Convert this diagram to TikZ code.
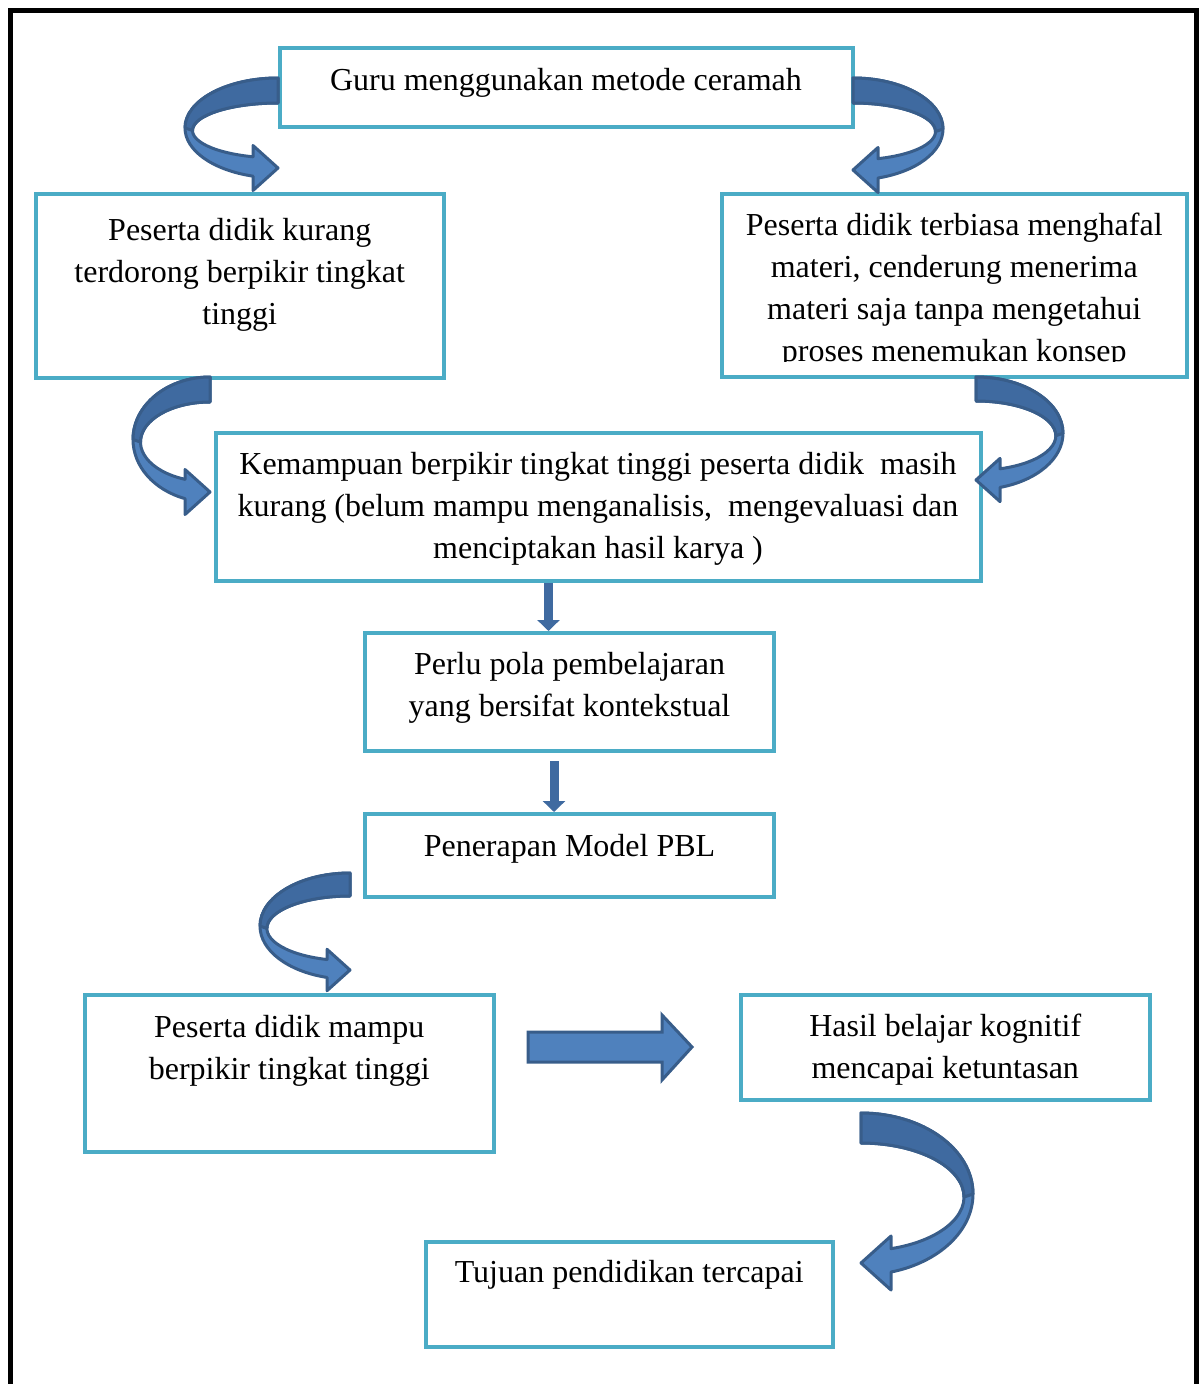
\documentclass[tikz,border=0pt]{standalone}
\usepackage{fontspec}
\setmainfont{Liberation Serif}
\usetikzlibrary{arrows.meta}

\definecolor{boxline}{HTML}{4BACC6}
\definecolor{arrfill}{HTML}{4F81BD}
\definecolor{arrback}{HTML}{3F6AA0}
\definecolor{arredge}{HTML}{385D8A}

\tikzset{
  box/.style={draw=boxline, line width=4pt, inner sep=0pt, anchor=north west, fill=white,
    font=\fontsize{32}{42}\selectfont},
  arrbody/.style={fill=arrfill, draw=arredge, line width=3pt, line join=round},
  arrtop/.style={fill=arrback, draw=arredge, line width=3pt, line join=round},
  downarr/.style={draw=arrback, line width=9pt, -{Triangle[width=22pt,length=11pt]}}
}

% width, height, first baseline, text
\newcommand{\bx}[4]{\parbox[t][#2pt][t]{#1pt}{\centering\rule{0pt}{#3pt}#4}}

% tail x, tail y, side, radius, tip drop, thickness
\newcommand{\curvarr}[6]{%
  \begin{scope}[shift={(#1,-#2)},xscale=#3]
    \pgfmathsetmacro{\cvryo}{(#5+0.4*#6)/2}
    \pgfmathsetmacro{\cvryi}{(#5-1.4*#6)/2}
    \pgfmathsetmacro{\cvcyi}{(#5+0.6*#6)/2}
    \pgfmathsetmacro{\cvri}{#4-0.3*#6}
    \pgfmathsetmacro{\cvpo}{acos(#6/#4)}
    \pgfmathsetmacro{\cvpi}{acos(#6/\cvri)}
    \pgfmathsetmacro{\cvyi}{-\cvcyi-\cvryi*sin(\cvpi)}
    \filldraw[arrbody] (0,0) arc[start angle=90,end angle={180+\cvpo},x radius=#4,y radius=\cvryo]
      -- (-#6,{-(#5+0.9*#6)}) -- (0,-#5) -- (-#6,{-(#5-0.9*#6)}) -- (-#6,\cvyi)
      arc[start angle={180+\cvpi},end angle=90,x radius=\cvri,y radius=\cvryi] -- cycle;
    \filldraw[arrtop] (0,0) arc[start angle=90,end angle=180,x radius=#4,y radius=\cvryo]
      -- (-\cvri,-\cvcyi) arc[start angle=180,end angle=90,x radius=\cvri,y radius=\cvryi] -- cycle;
  \end{scope}}

\begin{document}
\begin{tikzpicture}[x=1pt,y=1pt]
  \useasboundingbox (0,0) rectangle (1202,-1384);
  \draw[line width=4.5pt] (10.5,-1395) -- (10.5,-10.5) -- (1196.5,-10.5) -- (1196.5,-1395);

  \node[box] (guru) at (277.5,-45.5) {\bx{573}{79.5}{42.5}{Guru menggunakan metode ceramah}};
  \node[box] (kurang) at (33.5,-192) {\bx{408.5}{183.5}{46}{Peserta didik kurang\\ terdorong berpikir tingkat\\ tinggi}};
  \node[box] (hafal) at (719.5,-192) {\bx{465.5}{183}{41}{Peserta didik terbiasa menghafal\\ materi, cenderung menerima\\ materi saja tanpa mengetahui\\ proses menemukan konsep}};
  \fill[white] (724,-362) rectangle (1181,-372);
  \node[box] (mid) at (213.5,-431) {\bx{765}{147.5}{41}{Kemampuan berpikir tingkat tinggi peserta didik\ \ masih\\ kurang (belum mampu menganalisis,\ \ mengevaluasi dan\\ menciptakan hasil karya )}};
  \node[box] (perlu) at (363,-631) {\bx{409}{118}{41}{Perlu pola pembelajaran\\ yang bersifat kontekstual}};
  \node[box] (pbl) at (363,-812) {\bx{409}{83}{42}{Penerapan Model PBL}};
  \node[box] (mampu) at (82.5,-993) {\bx{409.5}{157}{42}{Peserta didik mampu\\ berpikir tingkat tinggi}};
  \node[box] (hasil) at (738.5,-993) {\bx{409.5}{105}{41}{Hasil belajar kognitif\\ mencapai ketuntasan}};
  \node[box] (tujuan) at (423.5,-1239.5) {\bx{407.5}{105}{40.5}{Tujuan pendidikan tercapai}};

  \curvarr{278}{78}{1}{93}{90}{25}
  \curvarr{853}{78}{-1}{90}{92}{25}
  \curvarr{210}{377}{1}{77}{115}{25}
  \curvarr{976}{377}{-1}{87}{103}{24}
  \curvarr{350}{873}{1}{90}{97}{23}
  \curvarr{861}{1113}{-1}{112}{150}{30}

  \coordinate (d1) at (548.5,0);
  \coordinate (d2) at (554,0);
  \draw[downarr] (mid.south -| d1) -- (perlu.north -| d1);
  \draw[downarr, shorten <=8pt] (perlu.south -| d2) -- (pbl.north -| d2);

  \filldraw[arrbody, line join=miter] (528,-1032) -- (662,-1032) -- (662,-1015) -- (692,-1047)
    -- (662,-1080) -- (662,-1062) -- (528,-1062) -- cycle;
\end{tikzpicture}
\end{document}
